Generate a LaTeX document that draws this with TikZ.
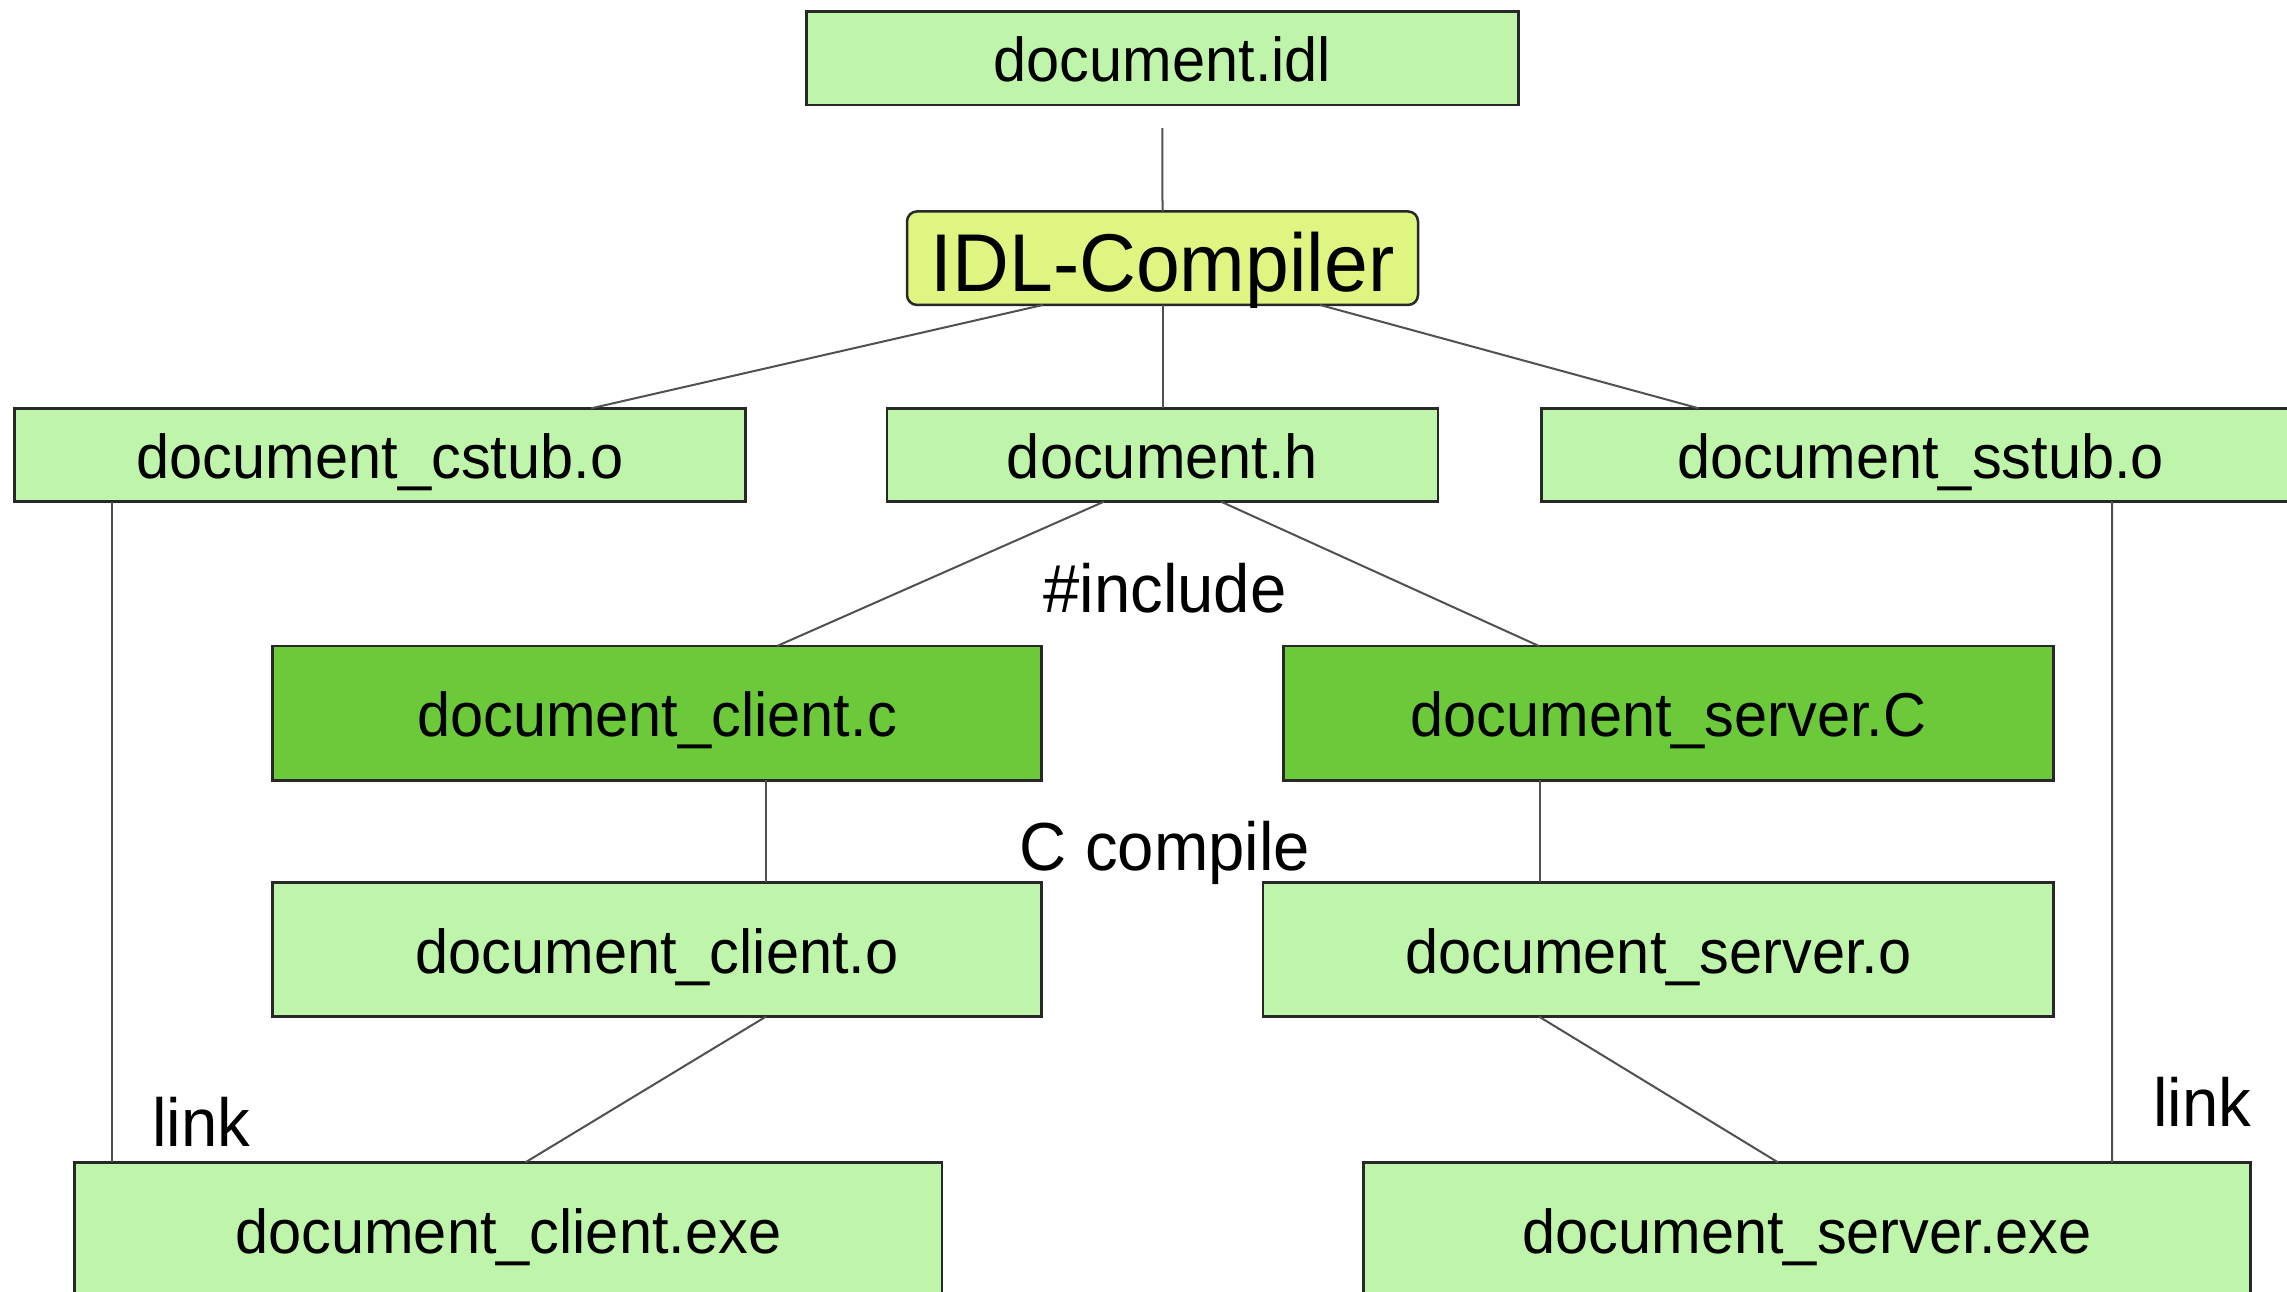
\documentclass[tikz,border=0pt]{standalone}
\usepackage{fontspec}
\setmainfont[FakeStretch=0.96]{Liberation Sans}
\definecolor{lightg}{RGB}{191,245,170}
\definecolor{darkg}{RGB}{107,201,58}
\definecolor{compy}{RGB}{222,245,130}
\definecolor{edge}{RGB}{40,40,40}
\definecolor{conn}{RGB}{80,80,80}
\tikzset{
  filebox/.style={draw=edge, line width=2.5pt, fill=lightg, inner sep=0pt, outer sep=0pt, text height=47pt, text depth=0pt, font=\fontsize{62}{70}\selectfont},
  srcbox/.style={filebox, fill=darkg},
  compbox/.style={draw=edge, line width=2.5pt, fill=compy, rounded corners=10pt, inner sep=0pt, outer sep=0pt, text height=66pt, text depth=0pt, font=\fontsize{82}{90}\selectfont},
  wire/.style={draw=conn, line width=2pt},
  lbl/.style={inner sep=0pt, anchor=base, font=\fontsize{68}{80}\selectfont}
}
\begin{document}
\begin{tikzpicture}[x=1pt,y=-1pt]
\useasboundingbox (0,0) rectangle (2287,1292);
% nodes
\node[filebox, minimum width=711.8, minimum height=93.3] (idl) at (1162.4,58.4) {document.idl};
\node[compbox, minimum width=511, minimum height=93.5] (comp) at (1162.5,258.2) {IDL-Compiler};
\node[filebox, minimum width=730.7, minimum height=93.3] (cstub) at (380,455) {document\_cstub.o};
\node[filebox, minimum width=551.3, minimum height=93.3] (doch) at (1162.5,455) {document.h};
\node[filebox, minimum width=758.4, minimum height=93.3] (sstub) at (1920.8,455) {document\_sstub.o};
\node[srcbox, minimum width=768.7, minimum height=134.3] (clientc) at (657,713.2) {document\_client.c};
\node[srcbox, minimum width=770.1, minimum height=134.3] (serverc) at (1668.5,713.2) {document\_server.C};
\node[filebox, minimum width=768.7, minimum height=134.2] (cliento) at (657,949.5) {document\_client.o};
\node[filebox, minimum width=790.6, minimum height=134.2] (servero) at (1658.3,949.5) {document\_server.o};
\node[filebox, minimum width=867.8, minimum height=136] (clientexe) at (508.3,1230.4) {document\_client.exe};
\node[filebox, minimum width=886.8, minimum height=136] (serverexe) at (1807.1,1230.4) {document\_server.exe};
% labels
\node[lbl] (inc) at (1165,612) {\#include};
\node[lbl] (cc) at (1165,870) {C compile};
\node[lbl] (linkl) at (201,1146) {link};
\node[lbl] (linkr) at (2202,1126) {link};
% connectors
\draw[wire] ([yshift=-23pt]idl.south) -- (comp.north);
\draw[wire] ([xshift=-119.5pt]comp.south) -- ([xshift=211pt]cstub.north);
\draw[wire] (comp.south) -- (doch.north);
\draw[wire] ([xshift=157.5pt]comp.south) -- ([xshift=-222pt]sstub.north);
\draw[wire] ([xshift=-58.5pt]doch.south) -- ([xshift=120pt]clientc.north);
\draw[wire] ([xshift=58.5pt]doch.south) -- ([xshift=-129.5pt]serverc.north);
\draw[wire] ([xshift=109pt]clientc.south) -- ([xshift=109pt]cliento.north);
\draw[wire] ([xshift=-128.5pt]serverc.south) -- ([xshift=-118.3pt]servero.north);
\draw[wire] ([xshift=109pt]cliento.south) -- ([xshift=17pt]clientexe.north);
\draw[wire] ([xshift=-119.3pt]servero.south) -- ([xshift=-29pt]serverexe.north);
\draw[wire] ([xshift=-268pt]cstub.south) -- ([xshift=-396.3pt]clientexe.north);
\draw[wire] ([xshift=191.2pt]sstub.south) -- ([xshift=305pt]serverexe.north);
\end{tikzpicture}
\end{document}
